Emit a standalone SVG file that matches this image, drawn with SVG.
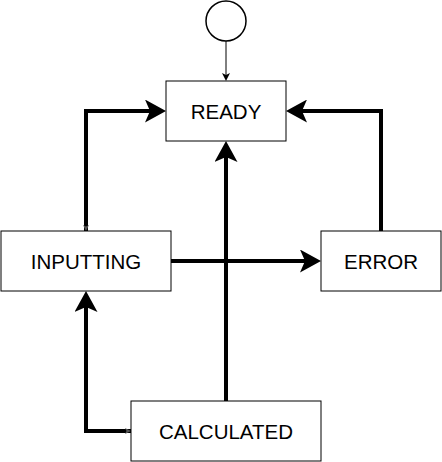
<svg xmlns="http://www.w3.org/2000/svg" width="442" height="462" viewBox="0 0 442 462">
<style>
.box{fill:#fff;stroke:#000;stroke-width:1}
.lbl{font-family:"Liberation Sans",Arial,sans-serif;font-size:20.5px;fill:#000;text-anchor:middle;dominant-baseline:central}
.thick{fill:none;stroke:#000;stroke-width:4}
.thin{fill:none;stroke:#000;stroke-width:1}
</style>
<defs>
<marker id="big" markerUnits="userSpaceOnUse" viewBox="0 0 21 23" refX="11" refY="11.5" markerWidth="21" markerHeight="23" orient="auto">
<path d="M21,11.5 L0,0 L5,11.5 L0,23 Z" fill="#000"/>
</marker>
<marker id="small" markerUnits="userSpaceOnUse" viewBox="0 0 8 8" refX="4" refY="4" markerWidth="8" markerHeight="8" orient="auto">
<path d="M8,4 L0,0 L2,4 L0,8 Z" fill="#000"/>
</marker>
<marker id="tiny" markerUnits="userSpaceOnUse" viewBox="0 0 6 6" refX="6" refY="3" markerWidth="6" markerHeight="6" orient="auto">
<path d="M6,3 L0,0 L1.5,3 L0,6 Z" fill="#555"/>
</marker>
</defs>
<g id="connectors">
<path class="thin" d="M226,41 L226,77" marker-end="url(#small)"/>
<path class="thick" d="M86,231 L86,111 L156,111" marker-end="url(#big)"/>
<path class="thick" d="M86,111 L86,231" marker-end="url(#tiny)"/>
<path class="thick" d="M381,231 L381,111 L296,111" marker-end="url(#big)"/>
<path class="thick" d="M171,261 L311,261" marker-end="url(#big)"/>
<path class="thick" d="M226,401 L226,151" marker-end="url(#big)"/>
<path class="thick" d="M131,431 L86,431 L86,301" marker-end="url(#big)"/>
<path class="thick" d="M86,431 L131,431" marker-end="url(#tiny)"/>
</g>
<g id="start"><circle cx="226" cy="21" r="20" fill="#fff" stroke="#000" stroke-width="1.5"/></g>
<g id="ready"><rect class="box" x="166" y="81" width="120" height="60"/><text class="lbl" x="226" y="111">READY</text></g>
<g id="inputting"><rect class="box" x="1" y="231" width="170" height="60"/><text class="lbl" x="86" y="261">INPUTTING</text></g>
<g id="error"><rect class="box" x="321" y="231" width="120" height="60"/><text class="lbl" x="381" y="261">ERROR</text></g>
<g id="calculated"><rect class="box" x="131" y="401" width="190" height="60"/><text class="lbl" x="226" y="431">CALCULATED</text></g>
</svg>
